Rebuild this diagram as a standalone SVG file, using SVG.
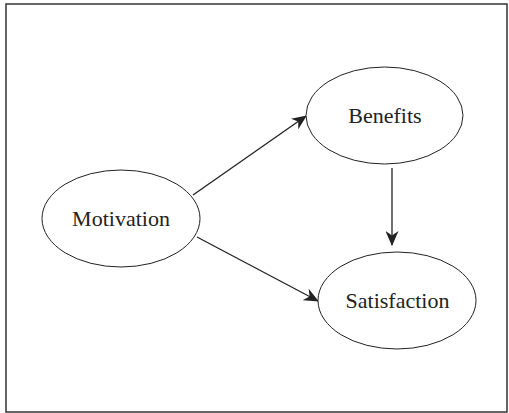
<svg xmlns="http://www.w3.org/2000/svg" width="509" height="413" viewBox="0 0 509 413">
<style>
.node{fill:#fff;stroke:#222;stroke-width:1}
.lbl{font-family:"Liberation Serif",serif;font-size:22px;fill:#222;text-anchor:middle}
.edge{stroke:#222;stroke-width:1.3;fill:none}
</style>
<defs>
<marker id="ah" viewBox="0 0 15 13" refX="14" refY="6.5" markerWidth="15" markerHeight="13" markerUnits="userSpaceOnUse" orient="auto">
<path d="M0,0 L15,6.5 L0,13 L4.5,6.5 Z" fill="#222"/>
</marker>
</defs>
<rect x="6" y="4" width="501" height="408" fill="#fff" stroke="#333" stroke-width="1.5"/>
<g id="connectors">
<line class="edge" x1="193" y1="195" x2="306" y2="116" marker-end="url(#ah)"/>
<line class="edge" x1="197" y1="237" x2="318" y2="301" marker-end="url(#ah)"/>
<line class="edge" x1="392" y1="168" x2="392" y2="245" marker-end="url(#ah)"/>
</g>
<g id="motivation">
<ellipse class="node" cx="121" cy="218.5" rx="79" ry="48.5"/>
<text class="lbl" x="121" y="226">Motivation</text>
</g>
<g id="benefits">
<ellipse class="node" cx="384.5" cy="115.5" rx="78.5" ry="48.5"/>
<text class="lbl" x="385" y="123">Benefits</text>
</g>
<g id="satisfaction">
<ellipse class="node" cx="397" cy="300.5" rx="79" ry="48.5"/>
<text class="lbl" x="397.5" y="308">Satisfaction</text>
</g>
</svg>
